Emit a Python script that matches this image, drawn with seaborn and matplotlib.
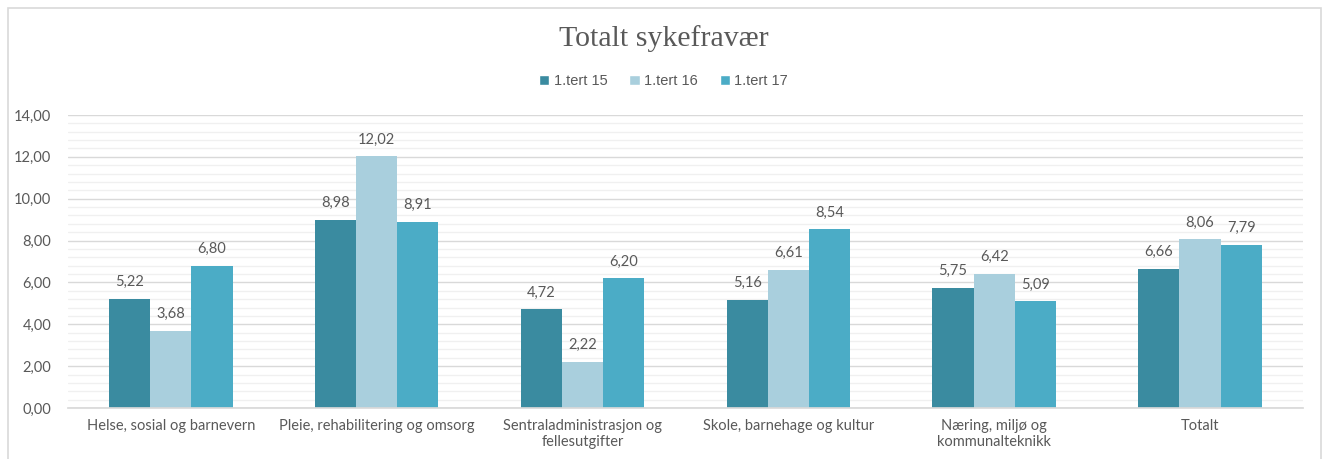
import matplotlib
matplotlib.use("Agg")
import matplotlib.pyplot as plt
import seaborn as sns
import pandas as pd
from matplotlib.ticker import MultipleLocator, FuncFormatter
from matplotlib.patches import Rectangle

categories = ["Helse, sosial og barnevern", "Pleie, rehabilitering og omsorg",
              "Sentraladministrasjon og\nfellesutgifter", "Skole, barnehage og kultur",
              "Næring, miljø og\nkommunalteknikk", "Totalt"]
series = ["1.tert 15", "1.tert 16", "1.tert 17"]
t15 = [5.22, 8.98, 4.72, 5.16, 5.75, 6.66]
t16 = [3.68, 12.02, 2.22, 6.61, 6.42, 8.06]
t17 = [6.80, 8.91, 6.20, 8.54, 5.09, 7.79]
colors = ["#3A8BA0", "#A9CFDD", "#4BACC6"]

rows = []
for s, vals in zip(series, [t15, t16, t17]):
    for c, v in zip(categories, vals):
        rows.append({"Kategori": c, "Serie": s, "Verdi": v})
df = pd.DataFrame(rows)

sns.set_theme(style="white")
plt.rcParams['font.family'] = ['Lato', 'DejaVu Sans']
txt = "#595959"

fig = plt.figure(figsize=(13.27, 4.59), dpi=100)
ax = fig.add_axes([0.0512, 0.111, 0.9307, 0.6385])

sns.barplot(data=df, x="Kategori", y="Verdi", hue="Serie", palette=colors,
            width=0.6, gap=0, ax=ax, legend=False, saturation=1, linewidth=0)

ax.set_ylim(0, 14)
ax.set_xlim(-0.5, len(categories) - 0.5)
ax.yaxis.set_major_locator(MultipleLocator(2))
ax.yaxis.set_minor_locator(MultipleLocator(0.4))
ax.yaxis.set_major_formatter(FuncFormatter(lambda v, p: f"{v:.2f}".replace(".", ",")))
ax.grid(axis="y", which="major", color="#D9D9D9", linewidth=1.0)
ax.grid(axis="y", which="minor", color="#F0F0F0", linewidth=1.0)
ax.set_axisbelow(True)
for sp in ["top", "right", "left"]:
    ax.spines[sp].set_visible(False)
ax.spines["bottom"].set_color("#D9D9D9")
ax.tick_params(axis="both", which="both", length=0, labelsize=10.5, labelcolor=txt)
ax.tick_params(axis="y", pad=12)
ax.tick_params(axis="x", pad=8)
ax.set_xlabel("")
ax.set_ylabel("")

for cont in ax.containers:
    ax.bar_label(cont, labels=[f"{b.get_height():.2f}".replace(".", ",") for b in cont],
                 padding=7, fontsize=10.5, color=txt)

fig.text(0.5, 0.915, "Totalt sykefravær", ha="center", va="center",
         fontsize=21.5, color=txt, family=["Liberation Serif", "DejaVu Serif"])

handles = [Rectangle((0, 0), 1, 1, facecolor=c) for c in colors]
fig.legend(handles, series, loc="center", bbox_to_anchor=(0.5, 0.823), ncol=3,
           frameon=False, handlelength=0.7, handleheight=0.7,
           columnspacing=1.5, handletextpad=0.3,
           prop={"family": ["Liberation Sans", "DejaVu Sans"], "size": 10.5},
           labelcolor=txt)

fig.patches.append(Rectangle((8 / 1327, -0.01), 1313 / 1327, 1 - 8 / 459 + 0.01,
                             transform=fig.transFigure, fill=False,
                             edgecolor="#D9D9D9", linewidth=1.2))

fig.savefig("out.png", dpi=100)
